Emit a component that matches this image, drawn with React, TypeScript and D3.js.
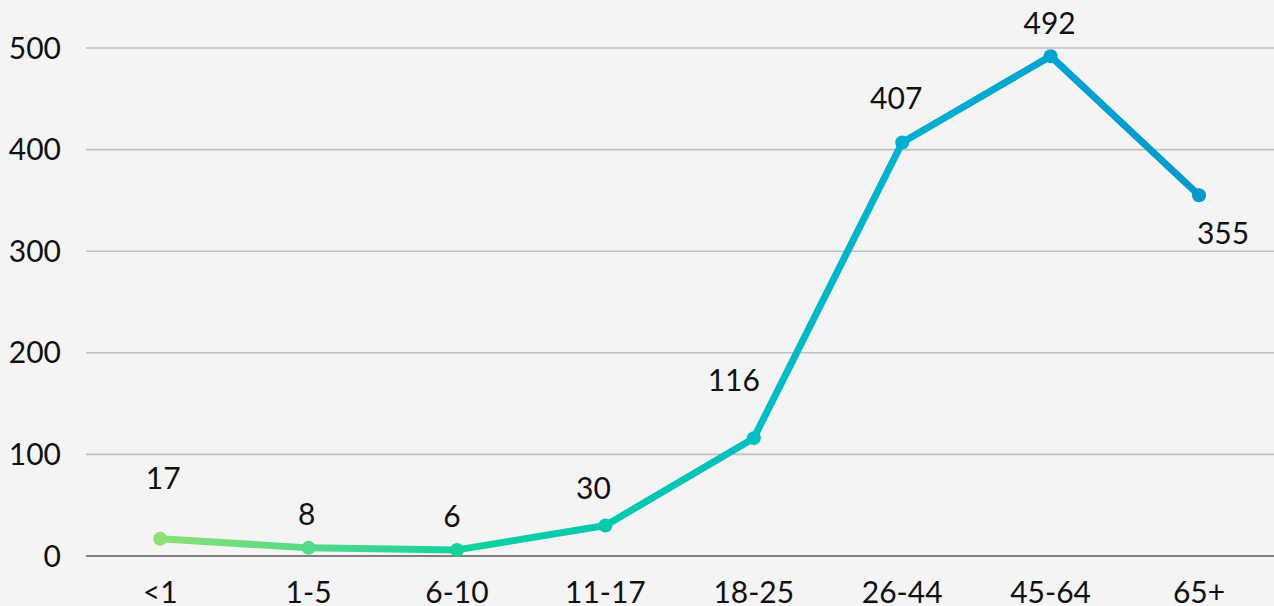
import React from "react";
import * as d3 from "d3";

const categories = ["<1", "1-5", "6-10", "11-17", "18-25", "26-44", "45-64", "65+"];
const values = [17, 8, 6, 30, 116, 407, 492, 355];
const yTicks = [0, 100, 200, 300, 400, 500];
const lineColors = ["#8ce075", "#55da88", "#12d39c", "#00c9b0", "#00bfc2", "#00b0d0", "#00a4d2", "#0099cc"];

const W = 1274;
const H = 606;
const FONT = "Lato, 'Open Sans', sans-serif";

// label placement relative to each point (dx, dy)
const labelPlacement: [number, number][] = [
  [3, -60],
  [-2, -33],
  [-5, -33],
  [-12, -37],
  [-20, -58],
  [-6, -44],
  [-1, -33],
  [24, 38],
];

export default function App() {
  const x = d3.scaleBand<string>().domain(categories).range([86, 86 + 8 * 148.4]);
  const y = d3.scaleLinear().domain([0, 500]).range([556, 48]);
  const cx = (c: string) => (x(c) as number) + x.bandwidth() / 2;

  const line = d3
    .line<number>()
    .x((_, i) => cx(categories[i]))
    .y((d) => y(d));

  const x0 = cx(categories[0]);
  const x1 = cx(categories[categories.length - 1]);

  return (
    <svg width={W} height={H} style={{ position: "absolute", left: 0, top: 0, background: "#f4f4f4" }}>
      <defs>
        <linearGradient id="lineGrad" gradientUnits="userSpaceOnUse" x1={x0} y1={0} x2={x1} y2={0}>
          {lineColors.map((c, i) => (
            <stop key={i} offset={(cx(categories[i]) - x0) / (x1 - x0)} stopColor={c} />
          ))}
        </linearGradient>
      </defs>
      <rect width={W} height={H} fill="#f4f4f4" />
      {yTicks.map((t) => (
        <g key={t}>
          <line
            x1={86}
            x2={W}
            y1={y(t)}
            y2={y(t)}
            stroke={t === 0 ? "#7f7f7f" : "#c0c0c0"}
            strokeWidth={t === 0 ? 2 : 1.6}
          />
          <text
            x={61}
            y={y(t)}
            dy="0.35em"
            textAnchor="end"
            fontFamily={FONT}
            fontSize={30}
            fill="#111"
          >
            {t}
          </text>
        </g>
      ))}
      {categories.map((c) => (
        <text
          key={c}
          x={cx(c)}
          y={603}
          textAnchor="middle"
          fontFamily={FONT}
          fontSize={30}
          fill="#111"
        >
          {c}
        </text>
      ))}
      <path
        d={line(values) as string}
        fill="none"
        stroke="url(#lineGrad)"
        strokeWidth={7}
        strokeLinejoin="round"
        strokeLinecap="round"
      />
      {values.map((v, i) => (
        <circle key={i} cx={cx(categories[i])} cy={y(v)} r={7} fill={lineColors[i]} />
      ))}
      {values.map((v, i) => (
        <text
          key={"l" + i}
          x={cx(categories[i]) + labelPlacement[i][0]}
          y={y(v) + labelPlacement[i][1]}
          dy="0.35em"
          textAnchor="middle"
          fontFamily={FONT}
          fontSize={30}
          fill="#111"
        >
          {v}
        </text>
      ))}
    </svg>
  );
}
